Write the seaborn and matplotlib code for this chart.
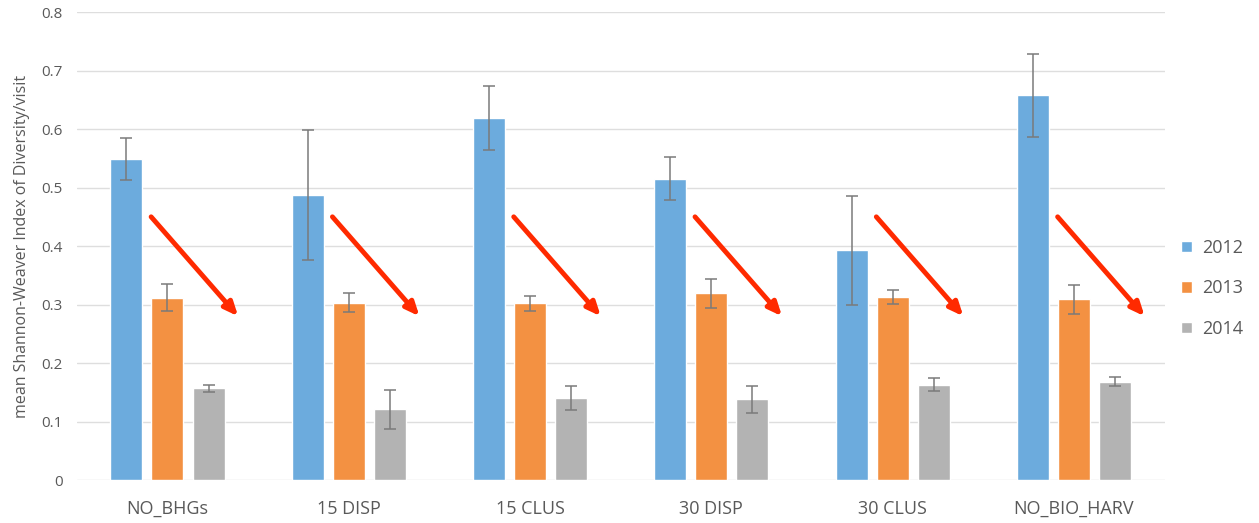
import matplotlib
matplotlib.use("Agg")
import matplotlib.pyplot as plt
import numpy as np
import pandas as pd
import seaborn as sns

treatments = ["NO_BHGs", "15 DISP", "15 CLUS", "30 DISP", "30 CLUS", "NO_BIO_HARV"]
years = ["2012", "2013", "2014"]
mean_2012 = [0.549, 0.487, 0.619, 0.515, 0.393, 0.658]
mean_2013 = [0.312, 0.303, 0.302, 0.319, 0.313, 0.309]
mean_2014 = [0.157, 0.121, 0.140, 0.138, 0.163, 0.168]
err_2012 = [0.036, 0.111, 0.055, 0.037, 0.093, 0.071]
err_2013 = [0.023, 0.016, 0.013, 0.024, 0.012, 0.025]
err_2014 = [0.006, 0.033, 0.021, 0.023, 0.011, 0.008]
colors = ["#6cabdd", "#f39142", "#b3b3b3"]

df = pd.DataFrame({
    "treatment": treatments * 3,
    "year": [y for y in years for _ in treatments],
    "value": mean_2012 + mean_2013 + mean_2014,
})
errs = [err_2012, err_2013, err_2014]
means = [mean_2012, mean_2013, mean_2014]

sns.set_style("white")
plt.rcParams["font.family"] = ["Open Sans", "DejaVu Sans"]

fig = plt.figure(figsize=(12.59, 5.23), dpi=100)
ax = fig.add_axes([0.061, 0.082, 0.864, 0.895])
sns.barplot(data=df, x="treatment", y="value", hue="year", palette=colors,
            width=0.68, gap=0.22, errorbar=None, ax=ax, saturation=1)

# error bars
for cont, m, e in zip(ax.containers, means, errs):
    xs = [p.get_x() + p.get_width() / 2 for p in cont.patches]
    ax.errorbar(xs, m, yerr=e, fmt="none", ecolor="#7a7a7a", elinewidth=1.1,
                capsize=4, capthick=1.1, zorder=5)

# red trend arrows
for i in range(len(treatments)):
    ax.annotate("", xy=(i + 0.39, 0.28), xytext=(i - 0.09, 0.45),
                arrowprops=dict(arrowstyle="-|>,head_length=0.8,head_width=0.35",
                                color="#ff2a00", lw=3.5, shrinkA=0, shrinkB=0),
                zorder=6)

ax.set_ylim(0, 0.8)
ax.set_xlim(-0.5, 5.5)
ax.set_yticks(np.arange(0, 0.81, 0.1))
ax.set_yticklabels(["0"] + [f"{v:.1f}" for v in np.arange(0.1, 0.81, 0.1)])
ax.yaxis.grid(True, color="#dedede", lw=1)
ax.set_axisbelow(True)
for s in ax.spines.values():
    s.set_visible(False)
ax.tick_params(axis="y", colors="#595959", labelsize=11, length=0, pad=10)
ax.tick_params(axis="x", colors="#595959", labelsize=13, length=0, pad=14)
ax.set_xlabel("")
ax.set_ylabel("mean Shannon-Weaver Index of Diversity/visit", color="#595959",
              fontsize=11.5)
ax.yaxis.set_label_coords(-0.043, 0.5)

leg = ax.legend(loc="center left", bbox_to_anchor=(1.0, 0.41), frameon=False,
                fontsize=13, handlelength=0.6, handleheight=0.6, handletextpad=0.6,
                labelspacing=1.25, borderaxespad=0.5)
for t in leg.get_texts():
    t.set_color("#595959")

fig.savefig("out.png", dpi=100)
